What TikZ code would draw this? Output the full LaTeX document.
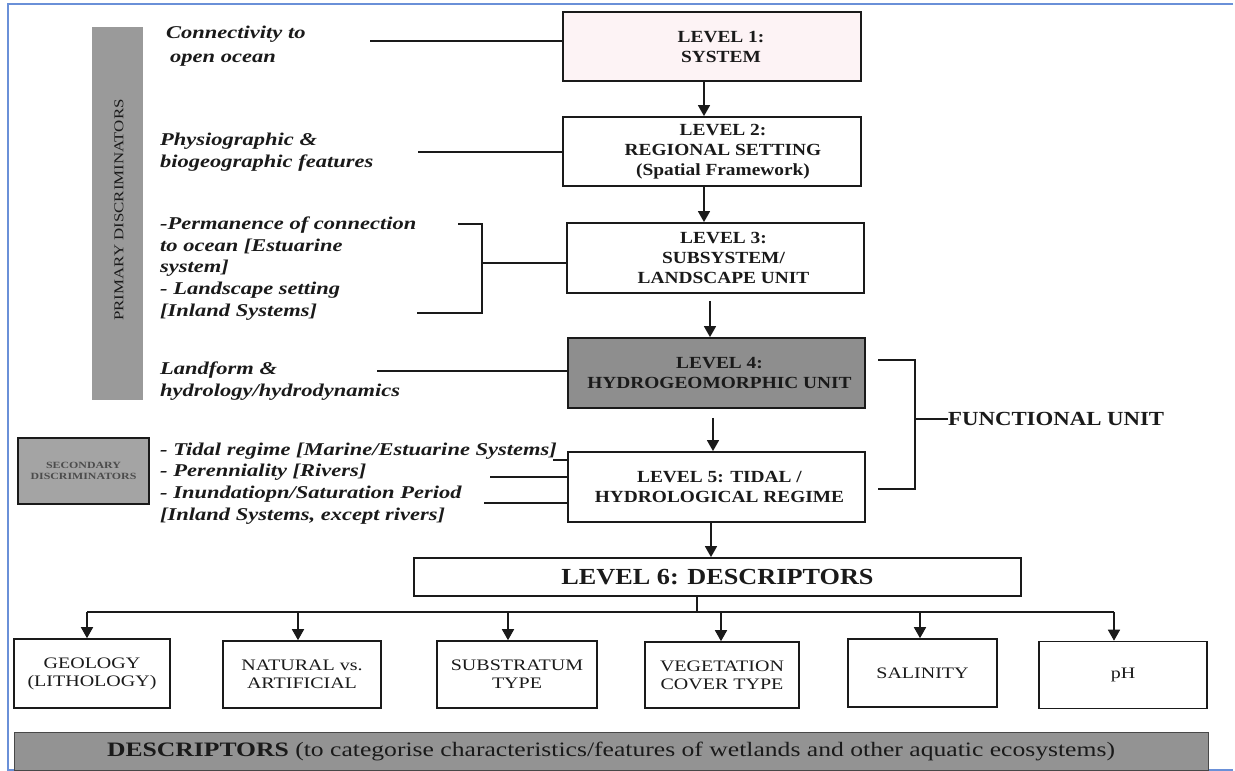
\documentclass[tikz,border=0pt]{standalone}
\usepackage{fontspec}
\setmainfont{Liberation Serif}
\newfontfamily\tms[FakeStretch=1.14]{Liberation Serif}
\newfontfamily\pal[FakeStretch=1.25]{Liberation Serif}
\usetikzlibrary{arrows.meta}
\definecolor{frameblue}{HTML}{6A90D8}
\definecolor{lvlgray}{HTML}{8E8E8E}
\definecolor{bargray}{HTML}{9A9A9A}
\definecolor{secgray}{HTML}{A4A4A4}
\definecolor{descgray}{HTML}{939393}
\definecolor{pinkish}{HTML}{FDF3F5}
\definecolor{ink}{HTML}{1A1A1A}
\tikzset{
  box/.style={draw=ink, line width=1.8pt, inner sep=0pt, align=center},
  lvlbox/.style={box, fill=white, minimum width=297pt, minimum height=70pt},
  lvltxt/.style={font={\tms\bfseries\fontsize{17}{20}\selectfont}, align=center, inner sep=0pt, text=ink},
  lefttxt/.style={font={\pal\bfseries\itshape\fontsize{18}{21.7}\selectfont}, align=left, anchor=north west, inner sep=0pt, text=ink},
  descbox/.style={box, line width=1.6pt, fill=white, minimum height=67pt, font={\pal\fontsize{16}{18}\selectfont}, text=ink},
  conn/.style={draw=ink, line width=1.1pt},
  arr/.style={draw=ink, line width=1.6pt, -{Triangle[length=11pt,width=12pt]}},
}
\begin{document}
\begin{tikzpicture}[x=1pt,y=-1pt]
\useasboundingbox (0,0) rectangle (1235,771);
\fill[white] (0,0) rectangle (1235,771);
% frame
\draw[frameblue, line width=1.6pt] (1233,4) -- (8,4) -- (8,770) -- (1233,770);

% primary discriminators bar
\node[fill=bargray, minimum width=51pt, minimum height=373pt, inner sep=0pt] (pbar) at (117.5,213.5) {};
\node[rotate=90, font={\pal\fontsize{13.5}{15}\selectfont}, text=ink, inner sep=0pt] (ptxt) at (119,210) {PRIMARY DISCRIMINATORS};

% secondary discriminators box
\node[draw=ink, line width=1.3pt, fill=secgray, minimum width=131pt, minimum height=66pt, inner sep=0pt, align=center,
      font={\pal\bfseries\fontsize{9.5}{10.5}\selectfont}, text=black!70] (sec) at (83.5,471) {SECONDARY\\DISCRIMINATORS};

% level boxes
\node[lvlbox, fill=pinkish, minimum width=298pt, minimum height=69pt] (l1) at (712,46.5) {};
\node[lvltxt] (l1t) at ([xshift=9pt]l1.center) {LEVEL 1:\\SYSTEM};
\node[lvlbox, minimum width=298pt, minimum height=69pt] (l2) at (712,151.5) {};
\node[lvltxt] (l2t) at ([xshift=11pt]l2.center) {LEVEL 2:\\REGIONAL SETTING\\(Spatial Framework)};
\node[lvlbox] (l3) at (715.5,258) {};
\node[lvltxt] (l3t) at ([xshift=8pt]l3.center) {LEVEL 3:\\SUBSYSTEM/\\LANDSCAPE UNIT};
\node[lvlbox, fill=lvlgray] (l4) at (716.5,373) {};
\node[lvltxt] (l4t) at ([xshift=3pt]l4.center) {LEVEL 4:\\HYDROGEOMORPHIC UNIT};
\node[lvlbox] (l5) at (716.5,487) {};
\node[lvltxt] (l5t) at ([xshift=3pt]l5.center) {LEVEL 5: TIDAL /\\HYDROLOGICAL REGIME};
\node[box, fill=white, minimum width=607pt, minimum height=38pt, font={\tms\bfseries\fontsize{23}{26}\selectfont}, text=ink] (l6) at (717.5,577) {LEVEL 6: DESCRIPTORS};

% vertical arrows
\draw[arr] ([xshift=-8pt]l1.south) -- ([xshift=-8pt]l1.south |- l2.north);
\draw[arr] ([xshift=-8pt]l2.south) -- ([xshift=-8pt]l2.south |- l3.north);
\draw[arr] ([xshift=-5.5pt,yshift=-7pt]l3.south) -- ([xshift=-5.5pt]l3.south |- l4.north);
\draw[arr] ([xshift=-3.5pt,yshift=-9pt]l4.south) -- ([xshift=-3.5pt]l4.south |- l5.north);
\draw[arr] ([xshift=-5.5pt]l5.south) -- ([xshift=-5.5pt]l5.south |- l6.north);

% left texts
\node[lefttxt] (t1) at (166,25.5) {Connectivity to\\[3pt]\hspace*{4pt}open ocean};
\node[lefttxt] (t2) at (160,132.5) {Physiographic \&\\[1pt]biogeographic features};
\node[lefttxt] (t3) at (160,216.5) {-Permanence of connection\\to ocean [Estuarine\\system]\\- Landscape setting\\{[Inland Systems]}};
\node[lefttxt] (t4) at (160,361.5) {Landform \&\\hydrology/hydrodynamics};
\node[lefttxt] (t5) at (160,442.5) {- Tidal regime [Marine/Estuarine Systems]\\- Perenniality [Rivers]\\- Inundatiopn/Saturation Period\\{[Inland Systems, except rivers]}};

% left connectors
\coordinate (c1) at (370,41);
\draw[conn] (c1) -- (c1 -| l1.west);
\coordinate (c2) at (418,152);
\draw[conn] (c2) -- (c2 -| l2.west);
\coordinate (b3t) at (458,224);
\coordinate (b3b) at (417,313);
\coordinate (b3m) at (482,263);
\draw[conn] (b3t) -- (482,224) -- (482,313) -- (b3b);
\draw[conn] (b3m) -- (b3m -| l3.west);
\coordinate (c4) at (377,371);
\draw[conn] (c4) -- (c4 -| l4.west);
\coordinate (c5a) at (553,460);
\draw[conn] (c5a) -- (c5a -| l5.west);
\coordinate (c5b) at (490,477);
\draw[conn] (c5b) -- (c5b -| l5.west);
\coordinate (c5c) at (484,503);
\draw[conn] (c5c) -- (c5c -| l5.west);

% functional unit bracket
\node[font={\tms\bfseries\fontsize{20}{22}\selectfont}, anchor=west, inner sep=0pt, text=ink] (fu) at (948,419) {FUNCTIONAL UNIT};
\coordinate (fut) at (878,360);
\coordinate (fub) at (878,489);
\draw[conn] (fut) -- (915,360) -- (915,489) -- (fub);
\draw[conn] (915,419) -- (fu.west);

% descriptor boxes
\node[descbox, minimum width=156pt, minimum height=69pt] (geo) at (92,673.5) {GEOLOGY\\(LITHOLOGY)};
\node[descbox, minimum width=158pt] (nat) at (302,674.5) {NATURAL vs.\\ARTIFICIAL};
\node[descbox, minimum width=160pt] (sub) at (517,674.5) {SUBSTRATUM\\TYPE};
\node[descbox, minimum width=154pt, minimum height=66pt] (veg) at (722,675) {VEGETATION\\COVER TYPE};
\node[descbox, minimum width=149pt, minimum height=68pt] (sal) at (922.5,673) {SALINITY};
\node[descbox, minimum width=168pt] (ph) at (1123,675) {pH};

% distribution bus
\coordinate (busL) at (87,612);
\coordinate (busR) at (1114,612);
\coordinate (j6) at (697,612);
\draw[conn] ([xshift=-20.5pt]l6.south) -- (j6);
\draw[conn] (busL) -- (busR);
\draw[arr] (busL) -- (busL |- geo.north);
\draw[arr] ([xshift=-4pt]nat.north |- busL) -- ([xshift=-4pt]nat.north);
\draw[arr] ([xshift=-9pt]sub.north |- busL) -- ([xshift=-9pt]sub.north);
\draw[arr] ([xshift=-1pt]veg.north |- busL) -- ([xshift=-1pt]veg.north);
\draw[arr] ([xshift=-2.5pt]sal.north |- busL) -- ([xshift=-2.5pt]sal.north);
\draw[arr] (busR) -- (busR |- ph.north);

% bottom descriptors bar
\node[draw=ink!80, line width=1pt, fill=descgray, minimum width=1194pt, minimum height=38pt, inner sep=0pt,
      font={\pal\fontsize{20.5}{22}\selectfont}, text=ink] (desc) at (611,751)
      {\textbf{DESCRIPTORS} (to categorise characteristics/features of wetlands and other aquatic ecosystems)};
\end{tikzpicture}
\end{document}
